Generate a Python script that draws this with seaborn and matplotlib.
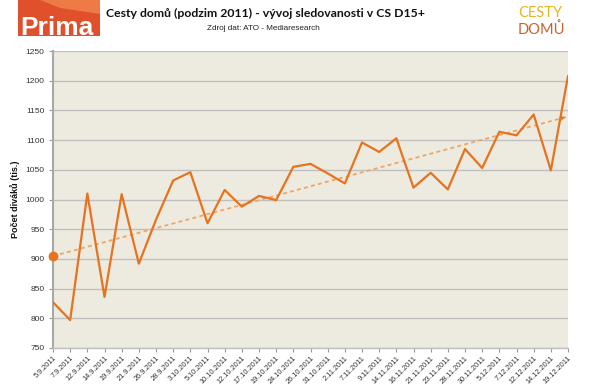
import numpy as np
import pandas as pd
import seaborn as sns
import matplotlib.pyplot as plt
from matplotlib.patches import Rectangle, Polygon

dates = ["5.9.2011", "7.9.2011", "12.9.2011", "14.9.2011", "19.9.2011", "21.9.2011",
         "26.9.2011", "28.9.2011", "3.10.2011", "5.10.2011", "10.10.2011", "12.10.2011",
         "17.10.2011", "19.10.2011", "24.10.2011", "26.10.2011", "31.10.2011", "2.11.2011",
         "7.11.2011", "9.11.2011", "14.11.2011", "16.11.2011", "21.11.2011", "23.11.2011",
         "28.11.2011", "30.11.2011", "5.12.2011", "7.12.2011", "12.12.2011", "14.12.2011",
         "19.12.2011"]
viewers = [827, 797, 1010, 836, 1009, 892, 966, 1032, 1046, 960, 1016, 988,
           1006, 999, 1055, 1060, 1044, 1027, 1096, 1080, 1103, 1020, 1045, 1017,
           1085, 1053, 1114, 1108, 1143, 1049, 1208]
y_ticks = list(range(750, 1251, 50))

title = "Cesty domů (podzim 2011) - vývoj sledovanosti v CS D15+"
subtitle = "Zdroj dat: ATO - Mediaresearch"
ylabel = "Počet diváků (tis.)"

sns.set_theme(style="white")
plt.rcParams['font.family'] = ['Liberation Sans', 'DejaVu Sans']

W, H = 599, 385
fig = plt.figure(figsize=(W / 100, H / 100), dpi=100)
ax = fig.add_axes([53 / W, 1 - 348 / H, (568 - 53) / W, (348 - 51) / H])
ax.set_facecolor('#EDEAE0')

df = pd.DataFrame({'idx': np.arange(len(dates)), 'v': viewers})

line_col = '#E8731E'
trend_col = '#F0A565'

# trend line (linear regression)
sns.regplot(data=df, x='idx', y='v', scatter=False, ci=None, ax=ax,
            line_kws=dict(color=trend_col, lw=1.3, ls=(0, (2.2, 1.8)), zorder=3))
fit = np.polyfit(df['idx'], df['v'], 1)
x0, x1 = df['idx'].iloc[0], df['idx'].iloc[-1]
ax.plot([x0], [np.polyval(fit, x0)], 'o', ms=6, color=line_col, clip_on=False, zorder=5)
ax.annotate('', xy=(x1, np.polyval(fit, x1)), xytext=(x1 - 0.6, np.polyval(fit, x1 - 0.6)),
            arrowprops=dict(arrowstyle='-|>', color=line_col, lw=0, mutation_scale=8),
            annotation_clip=False, zorder=5)

sns.lineplot(data=df, x='idx', y='v', color=line_col, lw=1.6, ax=ax, zorder=4)

ax.set_xlim(0, len(dates) - 1)
ax.set_ylim(750, 1250)
ax.set_yticks(y_ticks)
ax.set_yticklabels([str(t) for t in y_ticks], fontsize=6, color='#333333')
ax.set_xticks(df['idx'])
ax.set_xticklabels(dates, rotation=45, ha='right', rotation_mode='anchor',
                   fontsize=5.3, color='#333333')
ax.tick_params(axis='x', length=3, width=0.8, color='#999999', direction='out', pad=2, bottom=True)
ax.tick_params(axis='y', length=3, width=0.8, color='#999999', direction='out', pad=3, left=True)

ax.yaxis.grid(True, color='#C0C0C0', lw=1)
ax.xaxis.grid(False)
ax.set_axisbelow(True)
for s in ['top', 'right']:
    ax.spines[s].set_visible(False)
ax.spines['left'].set_color('#A8A8A8')
ax.spines['left'].set_linewidth(1.5)
ax.spines['bottom'].set_color('#BFBFBF')
ax.spines['bottom'].set_linewidth(1)

ax.set_xlabel('')
ax.set_ylabel(ylabel, fontsize=6.5, fontweight='bold', color='#111111')
ax.yaxis.set_label_coords((20 - 53) / 515, 0.5)

# titles
fig.text(265 / W, 1 - 13 / H, title, ha='center', va='center', fontsize=8.8,
         fontweight='bold', color='#111111', family=['Lato', 'DejaVu Sans'])
fig.text(263 / W, 1 - 28 / H, subtitle, ha='center', va='center', fontsize=5.9,
         color='#222222')

# Prima logo
fig.patches.append(Rectangle((18 / W, 1 - 36 / H), 82 / W, 36 / H, transform=fig.transFigure,
                             facecolor='#E0502A', edgecolor='none', zorder=1))
fig.patches.append(Polygon([(40 / W, 1.0), (100 / W, 1.0), (100 / W, 1 - 14 / H), (60 / W, 1 - 8 / H)],
                           closed=True, transform=fig.transFigure,
                           facecolor='#EE7A45', edgecolor='none', zorder=1))
fig.text(20 / W, 1 - 35 / H, 'Prima', ha='left', va='baseline', fontsize=19,
         fontweight='bold', color='white', zorder=2)

# Cesty domů logo
fig.text(540 / W, 1 - 13 / H, 'CESTY', ha='center', va='center', fontsize=10.5,
         color='#E8B41C', family=['Lato', 'DejaVu Sans'])
fig.text(541 / W, 1 - 30 / H, 'DOMŮ', ha='center', va='center', fontsize=10.5,
         color='#C9622C', family=['Lato', 'DejaVu Sans'])

fig.savefig('out.png', dpi=100, facecolor='white')
